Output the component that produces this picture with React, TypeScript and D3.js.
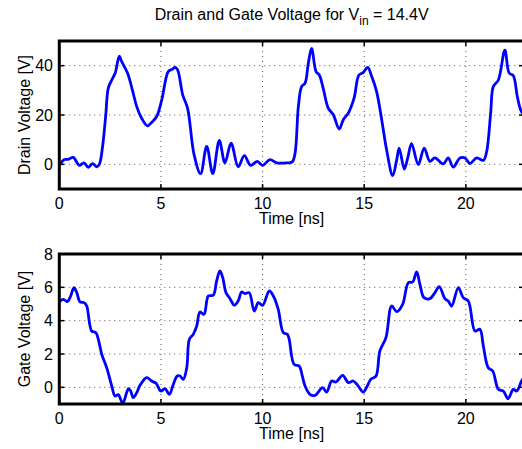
import React from "react";
import * as d3 from "d3";

const title = "Drain and Gate Voltage for V";
const titleSub = "in";
const titleTail = " = 14.4V";
const xLabel = "Time [ns]";
const drainLabel = "Drain Voltage [V]";
const gateLabel = "Gate Voltage [V]";

const xTicks = [0, 5, 10, 15, 20];
const drainTicks = [0, 20, 40];
const gateTicks = [0, 2, 4, 6, 8];
const xDomain: [number, number] = [0, 22.86];
const drainDomain: [number, number] = [-10, 50];
const gateDomain: [number, number] = [-1, 8];

// [time ns, drain voltage V]
const drainPoints: [number, number][] = [
  [0.0, -0.5], [0.23, 1.9], [0.44, 2.0], [0.69, 2.8], [0.98, -0.4], [1.21, 0.6],
  [1.43, -1.2], [1.64, 0.3], [1.84, -1.0], [1.97, 0.0], [2.13, 7.3], [2.28, 19.4],
  [2.41, 30.9], [2.58, 34.2], [2.75, 37], [2.95, 43.9], [3.05, 42], [3.36, 36.9],
  [3.6, 30], [3.81, 23.4], [4.05, 18.7], [4.33, 15.6], [4.54, 17], [4.79, 19.4],
  [5.04, 26.1], [5.36, 37.6], [5.55, 38.5], [5.69, 39.3], [5.82, 38.3], [6.07, 28.2],
  [6.31, 22.8], [6.63, 3.9], [6.95, -3.8], [7.25, 7.3], [7.55, -3.8], [7.87, 9.7],
  [8.15, 0.6], [8.45, 8.6], [8.8, -1.0], [9.1, 3.5], [9.41, -0.4], [9.74, 1.2],
  [10.0, -0.4], [10.36, 1.9], [10.69, 0.6], [11.18, 0.6], [11.46, 1.0], [11.6, 4.6],
  [11.76, 23.4], [11.92, 31.5], [12.09, 32.9], [12.25, 41], [12.41, 47], [12.63, 37.6],
  [12.79, 36.2], [12.98, 30.9], [13.23, 22.8], [13.48, 20.1], [13.77, 14.3], [13.97, 18.1],
  [14.22, 20.8], [14.5, 26.8], [14.74, 36.2], [14.95, 37.2], [15.17, 39.3], [15.37, 35.6],
  [15.61, 29.5], [15.86, 18.1], [16.1, 5.9], [16.4, -4.6], [16.6, 1.9], [16.72, 6.6],
  [16.97, -1.9], [17.14, 2.6], [17.33, 8.4], [17.66, -0.1], [17.95, 6.6], [18.23, 1.2],
  [18.48, 2.6], [18.89, 0.2], [19.13, 2.6], [19.38, -1.1], [19.71, 2.6], [19.96, 2.6],
  [20.2, 0.3], [20.53, 2.6], [20.86, 1.6], [21.02, 5], [21.22, 20.8], [21.35, 31.5],
  [21.6, 34.2], [21.92, 46.3], [22.13, 37], [22.33, 36], [22.53, 27.5], [22.7, 22],
  [22.86, 20],
];

// [time ns, gate voltage V]
const gatePoints: [number, number][] = [
  [0.0, 5.12], [0.2, 5.28], [0.39, 5.14], [0.56, 5.48], [0.72, 5.98], [0.86, 5.68],
  [1.02, 5.12], [1.22, 5.08], [1.35, 4.88], [1.59, 3.38], [1.8, 3.28], [1.92, 2.88],
  [2.09, 1.98], [2.33, 1.18], [2.58, 0.08], [2.74, -0.52], [2.9, -0.44], [3.12, -0.95],
  [3.4, -0.08], [3.51, -0.22], [3.64, -0.62], [3.81, -0.32], [3.97, 0.12], [4.3, 0.58],
  [4.54, 0.38], [4.76, 0.24], [4.99, -0.22], [5.2, -0.08], [5.41, -0.42], [5.61, 0.18],
  [5.8, 0.68], [5.94, 0.68], [6.1, 0.48], [6.27, 1.18], [6.4, 2.88], [6.59, 3.18],
  [6.76, 3.68], [6.92, 4.52], [7.12, 4.38], [7.33, 5.48], [7.57, 5.52], [7.74, 6.38],
  [7.9, 6.98], [8.04, 6.58], [8.2, 5.68], [8.4, 5.32], [8.61, 4.92], [8.8, 5.18],
  [8.97, 5.72], [9.13, 5.62], [9.34, 5.68], [9.59, 4.58], [9.79, 5.08], [10.0, 4.92],
  [10.33, 5.78], [10.53, 5.48], [10.77, 4.68], [11.02, 3.28], [11.22, 3.18], [11.31, 2.88],
  [11.55, 1.38], [11.8, 1.28], [11.95, 0.7], [12.09, 0.08], [12.33, -0.42], [12.58, -0.48],
  [12.95, -0.02], [13.15, -0.28], [13.4, 0.38], [13.61, 0.32], [13.94, 0.72], [14.22, 0.28],
  [14.46, 0.38], [14.68, 0.12], [14.95, -0.28], [15.15, 0.08], [15.32, 0.48], [15.58, 0.68],
  [15.77, 2.18], [16.07, 2.98], [16.35, 4.88], [16.6, 4.54], [16.89, 4.98], [17.17, 6.28],
  [17.38, 6.32], [17.58, 6.92], [17.74, 6.18], [17.94, 5.38], [18.23, 5.32], [18.48, 5.68],
  [18.69, 6.04], [18.97, 5.32], [19.13, 5.18], [19.3, 4.88], [19.63, 5.98], [19.87, 5.38],
  [20.12, 5.18], [20.45, 3.38], [20.69, 3.48], [20.86, 2.48], [21.1, 1.18], [21.32, 0.98],
  [21.6, -0.12], [21.84, -0.22], [22.08, -0.68], [22.33, -0.12], [22.5, -0.22], [22.74, 0.38],
  [22.86, 0.6],
];

const W = 522;
const H = 449;
const left = 59.3;
const right = 524;
const font = "'Liberation Sans', Arial, Helvetica, sans-serif";
const fs = 16;

type PanelProps = {
  id: string;
  top: number;
  bottom: number;
  yDomain: [number, number];
  yTicks: number[];
  data: [number, number][];
  yLabel: string;
};

function Panel({ id, top, bottom, yDomain, yTicks, data, yLabel }: PanelProps) {
  const x = d3.scaleLinear().domain(xDomain).range([left, right]);
  const y = d3.scaleLinear().domain(yDomain).range([bottom, top]);
  const line = d3
    .line<[number, number]>()
    .x((d) => x(d[0]))
    .y((d) => y(d[1]))
    .curve(d3.curveCatmullRom.alpha(0.5));
  const tl = 5;
  return (
    <g>
      <defs>
        <clipPath id={id}>
          <rect x={left} y={top} width={right - left} height={bottom - top} />
        </clipPath>
      </defs>
      {xTicks.map((t) => (
        <line key={"gx" + t} x1={x(t)} x2={x(t)} y1={top} y2={bottom}
          stroke="#555" strokeWidth={1} strokeDasharray="1,4" />
      ))}
      {yTicks.map((t) => (
        <line key={"gy" + t} x1={left} x2={right} y1={y(t)} y2={y(t)}
          stroke="#555" strokeWidth={1} strokeDasharray="1,4" />
      ))}
      <path d={line(data) || ""} fill="none" stroke="#0000ff" strokeWidth={2.8}
        strokeLinejoin="round" clipPath={`url(#${id})`} />
      {xTicks.map((t) => (
        <g key={"tx" + t}>
          <line x1={x(t)} x2={x(t)} y1={bottom} y2={bottom - tl} stroke="#000" strokeWidth={1.5} />
          <line x1={x(t)} x2={x(t)} y1={top} y2={top + tl} stroke="#000" strokeWidth={1.5} />
          <text x={x(t)} y={bottom + 20} textAnchor="middle" fontSize={fs} fontFamily={font}>{t}</text>
        </g>
      ))}
      {yTicks.map((t) => (
        <g key={"ty" + t}>
          <line x1={left} x2={left + tl} y1={y(t)} y2={y(t)} stroke="#000" strokeWidth={1.5} />
          <line x1={right} x2={right - tl} y1={y(t)} y2={y(t)} stroke="#000" strokeWidth={1.5} />
          <text x={53} y={y(t)} dy="0.36em" textAnchor="end" fontSize={fs} fontFamily={font}>{t}</text>
        </g>
      ))}
      <rect x={left} y={top} width={right - left} height={bottom - top}
        fill="none" stroke="#000" strokeWidth={3} />
      <text x={(left + right) / 2} y={bottom + 35} textAnchor="middle" fontSize={fs} fontFamily={font}>
        {xLabel}
      </text>
      <text transform={`translate(30,${(top + bottom) / 2}) rotate(-90)`} textAnchor="middle"
        fontSize={fs} fontFamily={font}>
        {yLabel}
      </text>
    </g>
  );
}

export default function App() {
  return (
    <svg width={W} height={H} style={{ position: "absolute", left: 0, top: 0, background: "#fff" }}>
      <rect x={0} y={0} width={W} height={H} fill="#fff" />
      <text x={(left + right) / 2} y={20} textAnchor="middle" fontSize={fs} fontFamily={font}>
        {title}
        <tspan dy={5} fontSize={12}>{titleSub}</tspan>
        <tspan dy={-5}>{titleTail}</tspan>
      </text>
      <Panel id="clipTop" top={41} bottom={189} yDomain={drainDomain} yTicks={drainTicks}
        data={drainPoints} yLabel={drainLabel} />
      <Panel id="clipBottom" top={254} bottom={404} yDomain={gateDomain} yTicks={gateTicks}
        data={gatePoints} yLabel={gateLabel} />
    </svg>
  );
}
